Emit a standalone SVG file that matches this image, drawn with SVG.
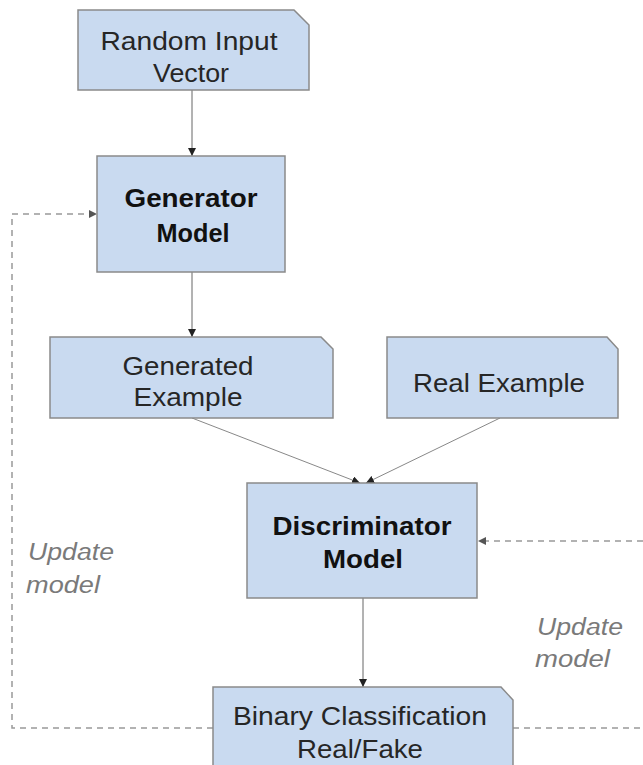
<svg xmlns="http://www.w3.org/2000/svg" width="643" height="765" viewBox="0 0 643 765">
<defs>
<style>
.box{fill:#c9daf0;stroke:#8a8a8a;stroke-width:1.5}
.t{font-family:"Liberation Sans",Arial,sans-serif;font-size:25px;fill:#262626;text-anchor:middle}
.b{font-weight:bold;fill:#111}
.u{font-family:"Liberation Sans",Arial,sans-serif;font-size:23px;font-style:italic;fill:#7a7a7a}
.ln{stroke:#666;stroke-width:1;fill:none}
.dg{stroke:#888;stroke-width:1;fill:none}
.da{stroke:#999;stroke-width:1.5;fill:none;stroke-dasharray:6 5}
</style>
<marker id="ah" viewBox="0 0 10 10" refX="10" refY="5" markerWidth="8" markerHeight="8" markerUnits="userSpaceOnUse" orient="auto">
<path d="M0,0 L10,5 L0,10 z" fill="#222"/>
</marker>
<marker id="ahd" viewBox="0 0 10 10" refX="10" refY="5" markerWidth="8" markerHeight="8" markerUnits="userSpaceOnUse" orient="auto">
<path d="M0,0 L10,5 L0,10 z" fill="#555"/>
</marker>
</defs>
<rect width="643" height="765" fill="#fff"/>
<g id="connectors">
<line class="ln" x1="192" y1="90" x2="192" y2="156" marker-end="url(#ah)"/>
<line class="ln" x1="192" y1="272" x2="192" y2="337" marker-end="url(#ah)"/>
<line class="dg" x1="192" y1="418" x2="360" y2="483" marker-end="url(#ah)"/>
<line class="dg" x1="500" y1="418" x2="366" y2="483" marker-end="url(#ah)"/>
<line class="ln" x1="363" y1="598" x2="363" y2="687" marker-end="url(#ah)"/>
<polyline class="da" points="213,728 12,728 12,214 97,214" marker-end="url(#ahd)"/>
<line class="da" x1="513" y1="728" x2="643" y2="728"/>
<line class="da" x1="643" y1="541" x2="478" y2="541" marker-end="url(#ahd)"/>
</g>
<g id="random-input">
<path class="box" d="M78,10 H294 L309,25 V90 H78 Z"/>
<text class="t" x="189" y="50" textLength="177" lengthAdjust="spacingAndGlyphs">Random Input</text>
<text class="t" x="191" y="82" textLength="76" lengthAdjust="spacingAndGlyphs">Vector</text>
</g>
<g id="generator">
<rect class="box" x="97" y="156" width="188" height="116"/>
<text class="t b" x="191" y="207" textLength="133" lengthAdjust="spacingAndGlyphs">Generator</text>
<text class="t b" x="193" y="242" textLength="73" lengthAdjust="spacingAndGlyphs">Model</text>
</g>
<g id="generated-example">
<path class="box" d="M50,337 H321 L333,349 V418 H50 Z"/>
<text class="t" x="188" y="375" textLength="131" lengthAdjust="spacingAndGlyphs">Generated</text>
<text class="t" x="188" y="406" textLength="109" lengthAdjust="spacingAndGlyphs">Example</text>
</g>
<g id="real-example">
<path class="box" d="M387,337 H607 L618,349 V418 H387 Z"/>
<text class="t" x="499" y="392" textLength="172" lengthAdjust="spacingAndGlyphs">Real Example</text>
</g>
<g id="discriminator">
<rect class="box" x="247" y="483" width="230" height="115"/>
<text class="t b" x="362" y="535" textLength="179" lengthAdjust="spacingAndGlyphs">Discriminator</text>
<text class="t b" x="363" y="568" textLength="80" lengthAdjust="spacingAndGlyphs">Model</text>
</g>
<g id="binary-classification">
<path class="box" d="M213,687 H501 L513,700 V770 H213 Z"/>
<text class="t" x="360" y="725" textLength="254" lengthAdjust="spacingAndGlyphs">Binary Classification</text>
<text class="t" x="360" y="758" textLength="126" lengthAdjust="spacingAndGlyphs">Real/Fake</text>
</g>
<g id="label-left">
<text class="u" x="28" y="560" textLength="86" lengthAdjust="spacingAndGlyphs">Update</text>
<text class="u" x="26" y="593" textLength="74" lengthAdjust="spacingAndGlyphs">model</text>
</g>
<g id="label-right">
<text class="u" x="537" y="635" textLength="86" lengthAdjust="spacingAndGlyphs">Update</text>
<text class="u" x="535" y="667" textLength="75" lengthAdjust="spacingAndGlyphs">model</text>
</g>
</svg>
